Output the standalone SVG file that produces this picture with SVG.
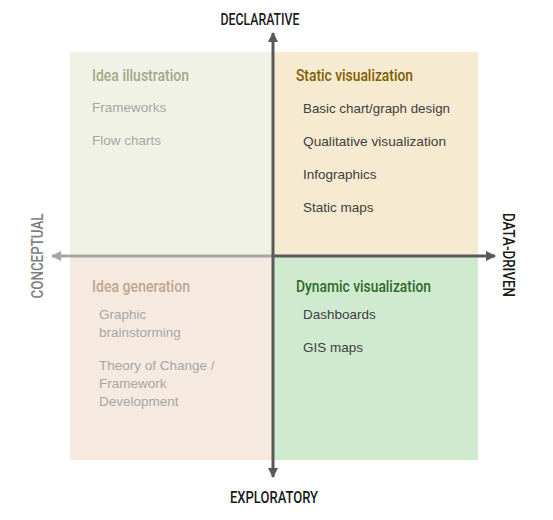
<svg xmlns="http://www.w3.org/2000/svg" width="553" height="520" viewBox="0 0 553 520">
<style>
.axis{font-family:Roboto,"Liberation Sans",Arial,sans-serif;font-size:17px;font-weight:500;}
.ttl{font-family:Roboto,"Liberation Sans",Arial,sans-serif;font-size:17px;font-weight:500;}
.item{font-family:"Liberation Sans",Arial,sans-serif;font-size:13.5px;}
.grey{fill:#a6a6a6;}
.dark{fill:#404040;}
</style>
<defs>
<marker id="ahDark" viewBox="0 0 10 10" refX="9" refY="5" markerWidth="10" markerHeight="10" markerUnits="userSpaceOnUse" orient="auto">
<path d="M0,0 L10,5 L0,10 Z" fill="#595959"/>
</marker>
<marker id="ahLight" viewBox="0 0 10 10" refX="9" refY="5" markerWidth="10" markerHeight="10" markerUnits="userSpaceOnUse" orient="auto">
<path d="M0,0 L10,5 L0,10 Z" fill="#a6a6a6"/>
</marker>
</defs>
<rect width="553" height="520" fill="#ffffff"/>
<g id="quadrant-idea-illustration">
<rect x="70" y="52" width="203" height="204" fill="#f0f2e6"/>
<text class="ttl" x="92" y="81" fill="#a3a88a" textLength="97" lengthAdjust="spacingAndGlyphs">Idea illustration</text>
<text class="item grey" x="92" y="112">Frameworks</text>
<text class="item grey" x="92" y="145">Flow charts</text>
</g>
<g id="quadrant-static-visualization">
<rect x="273" y="52" width="205" height="204" fill="#f6ead0"/>
<text class="ttl" x="296" y="81" fill="#7f6000" textLength="117" lengthAdjust="spacingAndGlyphs">Static visualization</text>
<text class="item dark" x="303" y="113" textLength="147" lengthAdjust="spacingAndGlyphs">Basic chart/graph design</text>
<text class="item dark" x="303" y="146" textLength="143" lengthAdjust="spacingAndGlyphs">Qualitative visualization</text>
<text class="item dark" x="303" y="179">Infographics</text>
<text class="item dark" x="303" y="212">Static maps</text>
</g>
<g id="quadrant-idea-generation">
<rect x="70" y="256" width="203" height="204" fill="#f5e9e0"/>
<text class="ttl" x="92" y="292" fill="#c0a68e" textLength="98" lengthAdjust="spacingAndGlyphs">Idea generation</text>
<text class="item grey" x="99" y="319">Graphic</text>
<text class="item grey" x="99" y="337">brainstorming</text>
<text class="item grey" x="99" y="370">Theory of Change /</text>
<text class="item grey" x="99" y="388">Framework</text>
<text class="item grey" x="99" y="406">Development</text>
</g>
<g id="quadrant-dynamic-visualization">
<rect x="273" y="256" width="205" height="204" fill="#d0ead0"/>
<text class="ttl" x="296" y="292" fill="#2f6b2a" textLength="135" lengthAdjust="spacingAndGlyphs">Dynamic visualization</text>
<text class="item dark" x="303" y="319">Dashboards</text>
<text class="item dark" x="303" y="352">GIS maps</text>
</g>
<g id="connectors">
<line x1="273" y1="256" x2="52" y2="256" stroke="#a6a6a6" stroke-width="3" marker-end="url(#ahLight)"/>
<line x1="273" y1="256" x2="495" y2="256" stroke="#595959" stroke-width="3" marker-end="url(#ahDark)"/>
<line x1="273" y1="256" x2="273" y2="33" stroke="#595959" stroke-width="3" marker-end="url(#ahDark)"/>
<line x1="273" y1="256" x2="273" y2="477" stroke="#595959" stroke-width="3" marker-end="url(#ahDark)"/>
</g>
<g id="axis-labels">
<text class="axis" x="260" y="25" text-anchor="middle" fill="#1a1a1a" textLength="79" lengthAdjust="spacingAndGlyphs">DECLARATIVE</text>
<text class="axis" x="274" y="503" text-anchor="middle" fill="#1a1a1a" textLength="88" lengthAdjust="spacingAndGlyphs">EXPLORATORY</text>
<text class="axis" transform="translate(43,256) rotate(-90)" text-anchor="middle" fill="#7f7f7f" textLength="85" lengthAdjust="spacingAndGlyphs">CONCEPTUAL</text>
<text class="axis" transform="translate(503,255) rotate(90)" text-anchor="middle" fill="#1a1a1a" textLength="84" lengthAdjust="spacingAndGlyphs">DATA-DRIVEN</text>
</g>
</svg>
